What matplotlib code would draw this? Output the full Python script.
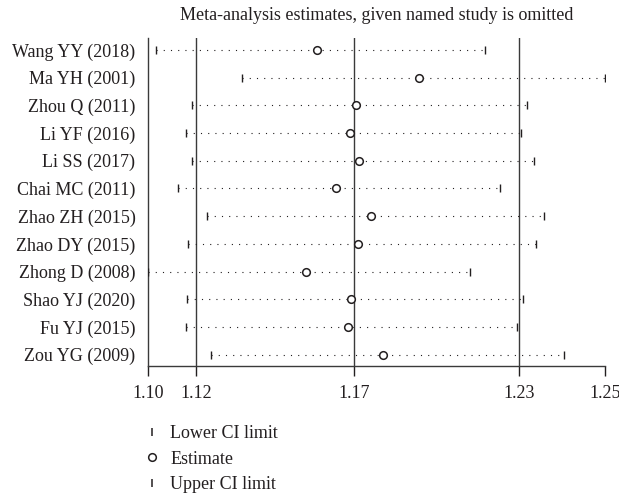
import matplotlib
matplotlib.use("Agg")
import matplotlib.pyplot as plt
from matplotlib.lines import Line2D
import numpy as np

# studies (top to bottom) and leave-one-out estimates
studies = ["Wang YY (2018)", "Ma YH (2001)", "Zhou Q (2011)", "Li YF (2016)",
           "Li SS (2017)", "Chai MC (2011)", "Zhao ZH (2015)", "Zhao DY (2015)",
           "Zhong D (2008)", "Shao YJ (2020)", "Fu YJ (2015)", "Zou YG (2009)"]
estimate = [1.1594, 1.1930, 1.1723, 1.1703, 1.1732, 1.1656, 1.1773, 1.1729,
            1.1558, 1.1706, 1.1695, 1.1812]
lower_ci = [1.1065, 1.1350, 1.1185, 1.1165, 1.1183, 1.1139, 1.1234, 1.1172,
            1.1040, 1.1168, 1.1165, 1.1247]
upper_ci = [1.2147, 1.2540, 1.2284, 1.2265, 1.2308, 1.2195, 1.2339, 1.2313,
            1.2097, 1.2270, 1.2250, 1.2405]
# overall pooled estimate and CI
overall = [1.11975, 1.1716, 1.2258]

txt = "#231f20"
plt.rcParams["font.family"] = ["Liberation Serif", "DejaVu Serif"]
plt.rcParams["text.color"] = txt
plt.rcParams["axes.labelcolor"] = txt
plt.rcParams["xtick.color"] = txt
plt.rcParams["ytick.color"] = txt

fig = plt.figure(figsize=(6.19, 4.96), dpi=100)
ax = fig.add_axes([148 / 619, 1 - 366 / 496, (605 - 148) / 619, (366 - 38) / 496])

ypos = np.arange(1, len(studies) + 1)
lo_min, up_max = min(lower_ci), max(upper_ci)

for v in overall:
    ax.axvline(v, color="#3a3a3a", lw=1.0, zorder=1)

for y, lo, est, up in zip(ypos, lower_ci, estimate, upper_ci):
    ax.plot([lo, up], [y, y], color=txt, lw=0.8, dashes=(1, 5.5), zorder=2)
ax.plot(lower_ci, ypos, ls="none", marker="|", ms=5.5, mew=1.0, color=txt, zorder=3)
ax.plot(upper_ci, ypos, ls="none", marker="|", ms=5.5, mew=1.0, color=txt, zorder=3)
ax.plot(estimate, ypos, ls="none", marker="o", ms=5.5, mew=1.1, mfc="white",
        mec=txt, zorder=4)

ax.set_xlim(lo_min, up_max)
ax.set_ylim(12.41, 0.57)
ax.set_yticks(ypos)
ax.set_yticklabels(studies, fontsize=13)
xt = [lo_min] + overall + [up_max]
ax.set_xticks(xt)
ax.set_xticklabels(["%.2f" % v for v in xt], fontsize=13)
ax.tick_params(axis="y", length=0, pad=9)
ax.tick_params(axis="x", length=7, width=1.0, pad=7, direction="out")
for s in ["top", "right"]:
    ax.spines[s].set_visible(False)
ax.spines["left"].set_color("#3a3a3a")
ax.spines["bottom"].set_color("#3a3a3a")
ax.spines["left"].set_linewidth(1.0)
ax.spines["bottom"].set_linewidth(1.0)

ax.set_title("Meta-analysis estimates, given named study is omitted",
             fontsize=13, pad=13)

handles = [
    Line2D([], [], ls="none", marker="|", ms=6, mew=1.1, color=txt),
    Line2D([], [], ls="none", marker="o", ms=5.5, mew=1.1, mfc="white", mec=txt),
    Line2D([], [], ls="none", marker="|", ms=6, mew=1.1, color=txt),
]
fig.legend(handles, ["Lower CI limit", "Estimate", "Upper CI limit"],
           loc="upper left", bbox_to_anchor=(143 / 619, 1 - 425 / 496),
           frameon=False, fontsize=13, handlelength=1.0, handletextpad=0.5,
           labelspacing=0.48, borderpad=0, borderaxespad=0)

fig.savefig("out.png", dpi=100)
